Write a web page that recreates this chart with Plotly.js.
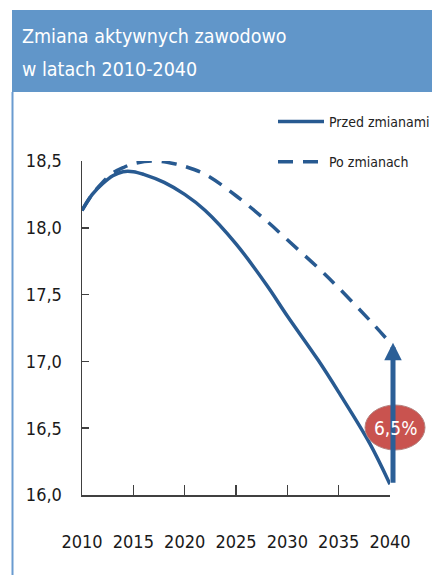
<!DOCTYPE html>
<html>
<head>
<meta charset="utf-8">
<script src="https://cdn.plot.ly/plotly-3.0.1.min.js"></script>
<style>html,body{margin:0;padding:0;background:#fff;}#chart{width:432px;height:575px;}</style>
</head>
<body>
<div id="chart"></div>
<script>
// Data
const yearsBefore = [2010, 2011, 2012, 2013, 2014, 2015, 2016, 2018, 2020, 2022, 2025, 2028, 2030, 2033, 2035, 2038, 2040];
const valuesBefore = [18.13, 18.25, 18.33, 18.39, 18.42, 18.42, 18.40, 18.34, 18.25, 18.13, 17.88, 17.57, 17.34, 17.01, 16.77, 16.39, 16.08];
const yearsAfter = [2010, 2011, 2012, 2013, 2014, 2015, 2017, 2019, 2020, 2022, 2025, 2028, 2030, 2033, 2035, 2038, 2040];
const valuesAfter = [18.13, 18.25, 18.34, 18.41, 18.45, 18.48, 18.50, 18.48, 18.46, 18.40, 18.24, 18.05, 17.91, 17.70, 17.55, 17.31, 17.14];
const seriesNames = ["Przed zmianami", "Po zmianach"];
const titleLines = ["Zmiana aktywnych zawodowo", "w latach 2010-2040"];
const xTicks = [2010, 2015, 2020, 2025, 2030, 2035, 2040];
const yTicks = [16.0, 16.5, 17.0, 17.5, 18.0, 18.5];
const changeLabel = "6,5%";

const FONT = "'DejaVu Sans Condensed', 'Liberation Sans Narrow', sans-serif";
const LINE = "#285a91";

// pixel->paper helpers for decorations (plot area: x 82..390, y 161..495)
const W = 432, H = 575, L = 82, R = 42, T = 161, B = 80;
const pw = W - L - R, ph = H - T - B;
const px = v => (v - L) / pw;
const py = v => (H - B - v) / ph;

const traces = [
  {x: yearsBefore, y: valuesBefore, name: seriesNames[0], type: "scatter", mode: "lines",
   line: {color: LINE, width: 3.5, shape: "spline", smoothing: 1}, cliponaxis: false, legendgroup: "a"},
  {x: yearsAfter, y: valuesAfter, name: seriesNames[1], type: "scatter", mode: "lines",
   line: {color: LINE, width: 3.5, dash: "15px,10px", shape: "spline", smoothing: 1}, cliponaxis: false, legendgroup: "b"}
];

const lastB = valuesBefore[valuesBefore.length - 1];
const lastA = valuesAfter[valuesAfter.length - 1];
const lastYear = yearsBefore[yearsBefore.length - 1];

const layout = {
  width: W, height: H,
  margin: {l: L, r: R, t: T, b: B, autoexpand: false},
  paper_bgcolor: "#ffffff", plot_bgcolor: "#ffffff",
  separators: ",.",
  font: {family: FONT, color: "#1a1a1a"},
  showlegend: true,
  legend: {x: px(273), xanchor: "left", y: py(106), yanchor: "top",
           font: {family: FONT, size: 14, color: "#222"}, tracegroupgap: 19,
           bgcolor: "rgba(0,0,0,0)", itemwidth: 46},
  xaxis: {range: [2010, 2040], tickvals: xTicks, tickformat: "d", tickangle: 0, showgrid: false, zeroline: false,
          showline: true, linecolor: "#404040", linewidth: 1.5, ticks: "inside", ticklen: 10,
          tickcolor: "#404040", tickwidth: 1.5, ticklabelstandoff: 30,
          tickfont: {family: FONT, size: 18, color: "#1a1a1a"}, fixedrange: true},
  yaxis: {range: [16, 18.5], tickvals: yTicks, tickformat: ".1f", showgrid: false, zeroline: false,
          showline: true, linecolor: "#404040", linewidth: 1.5, ticks: "inside", ticklen: 7,
          tickcolor: "#404040", tickwidth: 1.5, ticklabelstandoff: 15,
          tickfont: {family: FONT, size: 18, color: "#1a1a1a"}, fixedrange: true},
  shapes: [
    {type: "rect", xref: "paper", yref: "paper", x0: px(12), x1: px(432), y0: py(92), y1: py(10),
     fillcolor: "#6196c9", line: {width: 0}, layer: "below"},
    {type: "line", xref: "paper", yref: "paper", x0: px(12.5), x1: px(12.5), y0: py(92), y1: py(575),
     line: {color: "#6a9bd0", width: 2}},
    {type: "circle", xref: "paper", yref: "paper", x0: px(365), x1: px(425), y0: py(450), y1: py(405),
     fillcolor: "#c9534f", line: {color: "#b5827f", width: 1}, layer: "above"}
  ],
  annotations: [
    {xref: "paper", yref: "paper", x: px(20), y: py(37), xanchor: "left", yanchor: "middle",
     text: titleLines[0], showarrow: false, font: {family: FONT, size: 19.5, color: "#ffffff"}},
    {xref: "paper", yref: "paper", x: px(20), y: py(69), xanchor: "left", yanchor: "middle",
     text: titleLines[1], showarrow: false, font: {family: FONT, size: 19.5, color: "#ffffff"}},
    {xref: "x", yref: "y", x: lastYear, y: lastA, axref: "x", ayref: "y", ax: lastYear, ay: lastB,
     xshift: 3, text: "", showarrow: true, arrowhead: 2, arrowsize: 0.7, arrowwidth: 5,
     arrowcolor: "#2b5f97", standoff: 0, startstandoff: 0},
    {xref: "paper", yref: "paper", x: px(395), y: py(427.5), xanchor: "center", yanchor: "middle",
     text: changeLabel, showarrow: false, font: {family: FONT, size: 19, color: "#ffffff"}}
  ]
};

Plotly.newPlot("chart", traces, layout, {displayModeBar: false, staticPlot: true});
</script>
</body>
</html>
